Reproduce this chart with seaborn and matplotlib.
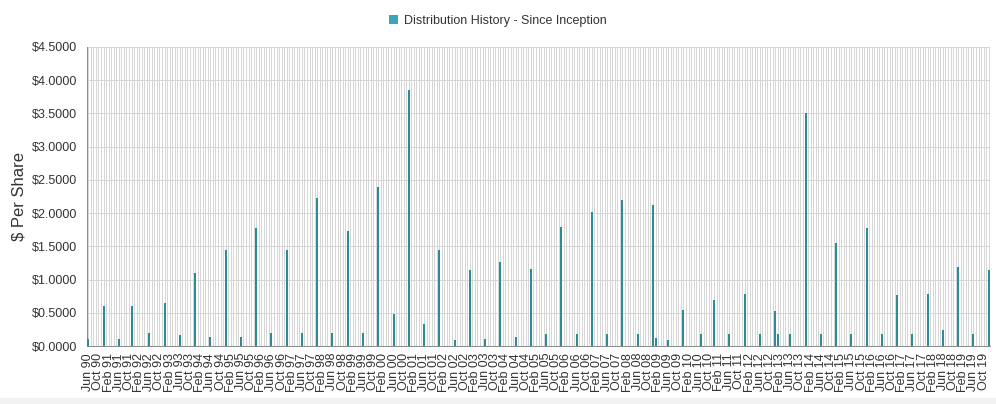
import pandas as pd
import seaborn as sns
import matplotlib.pyplot as plt
from matplotlib.patches import Patch, Rectangle

# === Data ===
first_month = "1990-06-01"
last_month = "2019-12-01"

dist_months = [
    "Jun 90", "Dec 90", "Jun 91", "Nov 91", "Jun 92", "Dec 92", "Jun 93", "Dec 93",
    "Jun 94", "Dec 94", "Jun 95", "Dec 95", "Jun 96", "Dec 96", "Jun 97", "Dec 97",
    "Jun 98", "Dec 98", "Jun 99", "Dec 99", "Jun 00", "Dec 00", "Jun 01", "Dec 01",
    "Jun 02", "Dec 02", "Jun 03", "Dec 03", "Jun 04", "Dec 04", "Jun 05", "Dec 05",
    "Jun 06", "Dec 06", "Jun 07", "Dec 07", "Jun 08", "Dec 08", "Jan 09", "Jun 09",
    "Dec 09", "Jul 10", "Dec 10", "Jun 11", "Dec 11", "Jun 12", "Dec 12", "Jan 13",
    "Jun 13", "Dec 13", "Jun 14", "Dec 14", "Jun 15", "Dec 15", "Jun 16", "Dec 16",
    "Jun 17", "Dec 17", "Jun 18", "Dec 18", "Jun 19", "Dec 19",
]
dist_amounts = [
    0.10, 0.60, 0.10, 0.60, 0.19, 0.65, 0.17, 1.10,
    0.14, 1.45, 0.14, 1.78, 0.19, 1.45, 0.19, 2.22,
    0.19, 1.73, 0.19, 2.40, 0.48, 3.86, 0.33, 1.45,
    0.09, 1.15, 0.11, 1.27, 0.14, 1.16, 0.18, 1.79,
    0.18, 2.02, 0.18, 2.20, 0.18, 2.12, 0.12, 0.09,
    0.54, 0.18, 0.69, 0.18, 0.79, 0.18, 0.53, 0.18,
    0.18, 3.51, 0.18, 1.55, 0.18, 1.78, 0.18, 0.77,
    0.18, 0.79, 0.24, 1.19, 0.18, 1.15,
]
series_name = "Distribution History - Since Inception"

# Categoría por mes (meses sin distribución = 0)
months = pd.date_range(first_month, last_month, freq="MS").strftime("%b %y").tolist()
df = pd.DataFrame({"mes": months})
df = df.merge(pd.DataFrame({"mes": dist_months, "monto": dist_amounts}), on="mes", how="left")
df["monto"] = df["monto"].fillna(0.0)

# === Estilo ===
sns.set_style("white")
plt.rcParams["font.family"] = ["Liberation Sans", "DejaVu Sans"]
plt.rcParams["lines.antialiased"] = False  # rejilla nítida de 1 px

bar_color = "#2f8a97"
legend_color = "#3aa5b8"
grid_color = "#d6d6d6"
axis_color = "#8c8c8c"
text_color = "#333333"

fig = plt.figure(figsize=(9.96, 4.04), dpi=100)
ax = fig.add_axes([87 / 996, 1 - 346 / 404, 903 / 996, 299 / 404])

n = len(months)
bar_px = 2.0  # ancho de barra en píxeles
sns.barplot(data=df, x="mes", y="monto", order=months, color=bar_color,
            width=bar_px * n / 903, saturation=1, ax=ax, zorder=3)
for bar in ax.patches:
    bar.set_antialiased(False)
    bar.set_edgecolor("none")

ax.set_xlim(-0.5, n - 0.5)
ax.set_ylim(0, 4.5)

# Rejilla
ax.set_xticks(range(n), minor=True)
ax.set_xticks(range(0, n, 4))
ax.set_xticklabels(months[0:n:4], rotation=90, fontsize=9, color=text_color)
ax.set_yticks([i * 0.5 for i in range(10)])
ax.set_yticklabels([f"${v * 0.5:.4f}" for v in range(10)], fontsize=9, color=text_color)
ax.grid(True, which="both", axis="x", color=grid_color, lw=0.72, zorder=0)
ax.grid(True, which="major", axis="y", color=grid_color, lw=0.72, zorder=0)
ax.set_axisbelow(True)

ax.tick_params(axis="x", which="both", length=4, width=0.72, color=axis_color, pad=1)
ax.tick_params(axis="y", length=3, width=0.72, color=axis_color, pad=4)

for side in ["top", "right"]:
    ax.spines[side].set_visible(False)
for side in ["left", "bottom"]:
    ax.spines[side].set_color(axis_color)
    ax.spines[side].set_linewidth(0.72)
    ax.spines[side].set_zorder(2)

ax.set_xlabel("")
ax.set_ylabel("$ Per Share", fontsize=12, color=text_color, labelpad=4)

# Leyenda
handle = Patch(facecolor=legend_color, edgecolor="none")
fig.legend([handle], [series_name], loc="center", bbox_to_anchor=(0.5, 1 - 21 / 404),
           frameon=False, fontsize=9, handlelength=0.75, handleheight=0.75,
           handletextpad=0.5, labelcolor=text_color)

# Franja gris inferior
fig.patches.append(Rectangle((0, 0), 1, 6 / 404, transform=fig.transFigure,
                             facecolor="#f2f2f2", edgecolor="none", zorder=-1))

plt.savefig("out.png", dpi=100)
plt.close()
